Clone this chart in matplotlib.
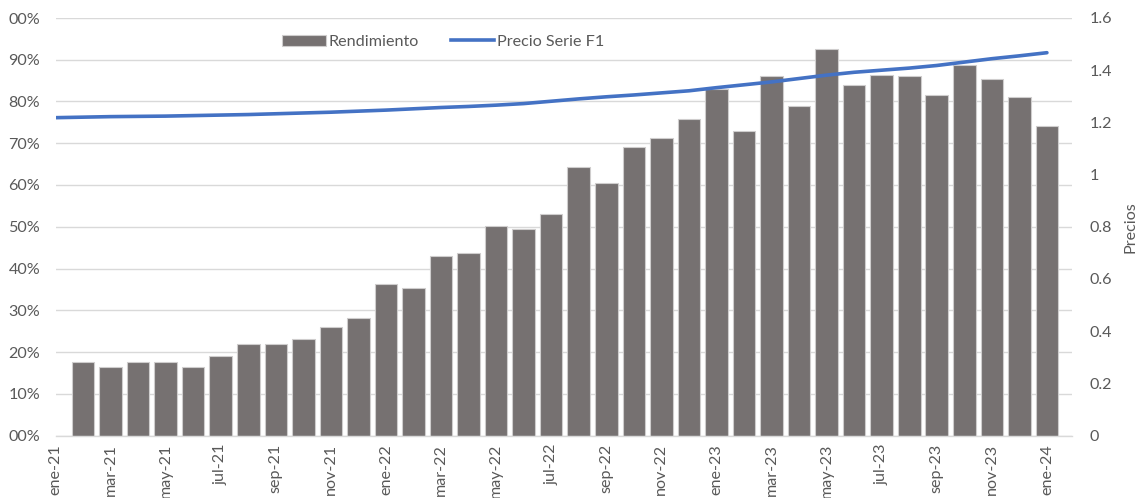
import matplotlib
matplotlib.use("Agg")
import matplotlib.pyplot as plt
from matplotlib.patches import Patch
from matplotlib.lines import Line2D

plt.rcParams['font.family'] = ['Lato', 'DejaVu Sans']

# ---- data ----
months = ["ene-21", "feb-21", "mar-21", "abr-21", "may-21", "jun-21", "jul-21", "ago-21",
          "sep-21", "oct-21", "nov-21", "dic-21", "ene-22", "feb-22", "mar-22", "abr-22",
          "may-22", "jun-22", "jul-22", "ago-22", "sep-22", "oct-22", "nov-22", "dic-22",
          "ene-23", "feb-23", "mar-23", "abr-23", "may-23", "jun-23", "jul-23", "ago-23",
          "sep-23", "oct-23", "nov-23", "dic-23", "ene-24"]

# Rendimiento (%) for feb-21 .. ene-24 (ene-21 has no bar)
rendimiento = [17.6, 16.5, 17.6, 17.6, 16.5, 19.0, 21.8, 21.8, 23.2, 26.0, 28.1, 36.4,
               35.4, 43.1, 43.8, 50.2, 49.5, 53.0, 64.2, 60.4, 69.1, 71.2, 75.8, 82.9,
               73.0, 86.0, 79.0, 92.6, 83.9, 86.3, 86.0, 81.5, 88.8, 85.4, 81.1, 74.1]

# Precio Serie F1 at each month ene-21 .. ene-24
precio = [1.218, 1.220, 1.222, 1.223, 1.224, 1.226, 1.228, 1.230, 1.233, 1.236, 1.239,
          1.243, 1.247, 1.252, 1.257, 1.261, 1.266, 1.272, 1.281, 1.290, 1.298, 1.305,
          1.313, 1.321, 1.333, 1.344, 1.355, 1.368, 1.381, 1.392, 1.400, 1.408, 1.418,
          1.431, 1.444, 1.455, 1.467]

left_ticks = [0, 10, 20, 30, 40, 50, 60, 70, 80, 90, 100]
left_labels = ["00%", "10%", "20%", "30%", "40%", "50%", "60%", "70%", "80%", "90%", "00%"]
right_ticks = [0, 0.2, 0.4, 0.6, 0.8, 1.0, 1.2, 1.4, 1.6]
right_labels = ["0", "0.2", "0.4", "0.6", "0.8", "1", "1.2", "1.4", "1.6"]

bar_color = "#767171"
line_color = "#4472C4"
text_color = "#595959"
grid_color = "#D9D9D9"
fs = 11.6

fig = plt.figure(figsize=(11.41, 4.98), dpi=100)
ax = fig.add_axes([55.5 / 1141, 1 - 435.5 / 498, (1071.7 - 55.5) / 1141, (435.5 - 18) / 498])

x_all = list(range(len(months)))
x_bars = x_all[1:]
ax.bar(x_bars, rendimiento, width=0.82, color=bar_color, edgecolor="#CFCDCD",
       linewidth=0.8, zorder=2)

ax.set_ylim(0, 100)
ax.set_xlim(0, 36.9)
ax.set_yticks(left_ticks)
ax.set_yticklabels(left_labels)
ax.yaxis.grid(True, color=grid_color, linewidth=1.0, zorder=0)
ax.set_axisbelow(True)
for s in ["top", "right", "left"]:
    ax.spines[s].set_visible(False)
ax.spines["bottom"].set_color(grid_color)
ax.spines["bottom"].set_linewidth(1.0)
ax.tick_params(axis="both", length=0, colors=text_color, labelsize=fs)
ax.tick_params(axis="y", pad=11)
ax.tick_params(axis="x", pad=6)
ax.set_xticks(x_all[::2])
ax.set_xticklabels(months[::2], rotation=90)

ax2 = ax.twinx()
ax2.plot(x_all, precio, color=line_color, linewidth=2.6, solid_capstyle="round", zorder=3)
ax2.set_ylim(0, 1.6)
ax2.set_yticks(right_ticks)
ax2.set_yticklabels(right_labels)
for s in ["top", "right", "left", "bottom"]:
    ax2.spines[s].set_visible(False)
ax2.tick_params(axis="y", length=0, colors=text_color, labelsize=fs, pad=13)
ax2.set_ylabel("Precios", color=text_color, fontsize=fs, labelpad=8)

handles = [Patch(facecolor=bar_color, edgecolor="#CFCDCD", linewidth=0.8),
           Line2D([0], [0], color=line_color, linewidth=2.6)]
fig.legend(handles, ["Rendimiento", "Precio Serie F1"], loc="center",
           bbox_to_anchor=(443 / 1141, 1 - 41.7 / 498), ncol=2, frameon=False,
           fontsize=fs, labelcolor=text_color, handlelength=2.7, handletextpad=0.15,
           columnspacing=2.0)

fig.savefig("out.png", dpi=100)
